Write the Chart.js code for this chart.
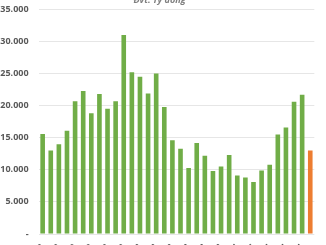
<!DOCTYPE html>
<html>
<head>
<meta charset="utf-8">
<script src="https://cdn.jsdelivr.net/npm/chart.js@4/dist/chart.umd.min.js"></script>
<style>
  html, body { margin: 0; padding: 0; background: #fff; overflow: hidden; }
  #wrap { position: absolute; left: 0; top: -6px; width: 326px; height: 300px; }
</style>
</head>
<body>
<div id="wrap"><canvas id="myChart"></canvas></div>
<script>
// Đvt: Tỷ đồng
const labels = [
  'T1/2022','T2/2022','T3/2022','T4/2022','T5/2022','T6/2022','T7/2022','T8/2022','T9/2022','T10/2022','T11/2022','T12/2022',
  'T1/2023','T2/2023','T3/2023','T4/2023','T5/2023','T6/2023','T7/2023','T8/2023','T9/2023','T10/2023','T11/2023','T12/2023',
  'T1/2024','T2/2024','T3/2024','T4/2024','T5/2024','T6/2024','T7/2024','T8/2024','T9/2024','T10/2024'
]
const values = [
  15600, 13000, 14000, 16100, 20700, 22300, 18800, 21800, 19500, 20700, 31000, 25200,
  24500, 21900, 25000, 19800, 14600, 13300, 10300, 14200, 12200, 9800, 10500, 12300,
  9100, 8800, 8100, 9900, 10800, 15500, 16600, 20600, 21700, 13000
]
const unitText = 'Đvt: Tỷ đồng'
const yTicks = [0, 5000, 10000, 15000, 20000, 25000, 30000, 35000]

const green = '#70ad47'
const orange = '#ed7d31'
const barColors = values.map((v, i) => i === values.length - 1 ? orange : green)

function fmt(v) {
    if (v === 0) return '-'
    return v.toString().replace(/\B(?=(\d{3})+(?!\d))/g, '.')
}

const ctx = document.getElementById('myChart')
const myChart = new Chart(ctx, {
    type: 'bar',
    data: {
        labels: labels,
        datasets: [{
            data: values,
            backgroundColor: barColors,
            borderWidth: 0,
            barPercentage: 0.57,
            categoryPercentage: 1
        }]
    },
    options: {
        responsive: true,
        maintainAspectRatio: false,
        animation: false,
        layout: { padding: { left: 0, right: 7, top: 0, bottom: 0 } },
        plugins: {
            legend: { display: false },
            tooltip: { enabled: false },
            title: {
                display: true,
                text: unitText,
                color: '#7f7f7f',
                font: { family: 'Open Sans', size: 9, style: 'italic' },
                padding: { top: 0, bottom: 3.5 }
            }
        },
        scales: {
            x: {
                grid: { display: false, drawTicks: false },
                border: { display: false },
                afterFit: (scale) => { scale.height = 60 },
                ticks: {
                    autoSkip: false,
                    maxRotation: 45,
                    minRotation: 45,
                    padding: 8,
                    color: '#595959',
                    font: { family: 'Open Sans', size: 9, weight: 'bold' },
                    callback: function (val, i) { return i % 2 === 0 ? this.getLabelForValue(val) : '' }
                }
            },
            y: {
                min: 0,
                max: 35000,
                afterFit: (scale) => { scale.width = 38.6 },
                afterBuildTicks: (scale) => { scale.ticks = yTicks.map(v => ({ value: v })) },
                border: { display: false },
                grid: { color: '#e6e6e6', lineWidth: 1, drawTicks: false },
                ticks: {
                    padding: 10,
                    color: '#595959',
                    font: { family: 'Open Sans', size: 9, weight: 'bold' },
                    callback: (v) => fmt(v)
                }
            }
        }
    }
})
</script>
</body>
</html>
